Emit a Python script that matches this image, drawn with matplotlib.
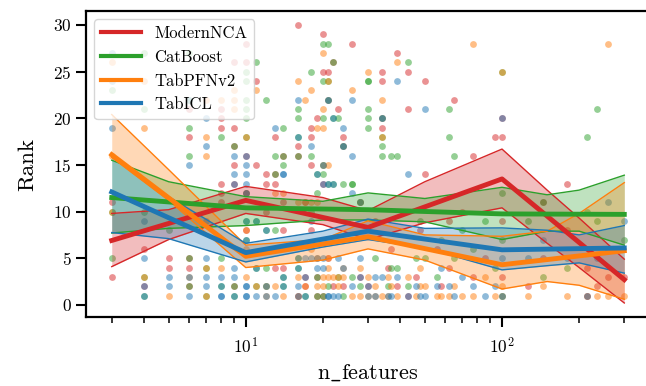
import matplotlib
matplotlib.use("Agg")
from matplotlib import pyplot as plt
from matplotlib.lines import Line2D

plt.rcParams["font.family"] = ["cmr10", "DejaVu Serif"]
plt.rcParams["mathtext.fontset"] = "cm"
plt.rcParams["axes.formatter.use_mathtext"] = True
plt.rcParams["axes.unicode_minus"] = False

models = ["ModernNCA", "CatBoost", "TabPFNv2", "TabICL"]
colors = ["#d62728", "#2ca02c", "#ff7f0e", "#1f77b4"]

# per-dataset ranks, keyed by n_features
modernnca_ranks = {3: [3, 11], 4: [6, 2], 5: [5, 4], 6: [21, 18, 5, 4, 2], 7: [9],
                   8: [21, 20, 19, 13, 12, 11], 9: [26, 19, 15, 13, 2, 17], 10: [28, 26, 16, 12, 8],
                   11: [24, 15], 12: [14, 13, 10], 13: [18, 14, 13, 4], 14: [16, 4, 11, 8],
                   16: [30, 17, 16, 1], 17: [3, 2, 11], 18: [19, 18, 15, 8], 19: [20, 3, 1],
                   20: [29, 25, 13, 1], 21: [25, 22, 5], 22: [26, 2], 23: [21], 24: [18, 17, 2],
                   26: [28], 28: [11, 3], 30: [2], 32: [9], 34: [25, 24, 19, 20], 36: [4], 37: [6],
                   39: [27, 2], 43: [25, 21, 1], 46: [3], 48: [8], 50: [24, 14], 56: [6], 58: [2],
                   62: [4, 9], 65: [22], 70: [10], 77: [16, 3], 86: [5], 94: [18],
                   100: [20, 18, 9, 3], 126: [2], 144: [11, 5], 180: [13, 8], 215: [4, 1],
                   235: [2], 260: [3], 300: [3]}
catboost_ranks = {3: [23, 10, 5], 4: [27, 21, 10, 3, 1], 5: [8], 6: [27, 22, 19, 16, 5, 2], 7: [4, 1],
                  8: [18, 5, 2], 9: [17, 2, 1], 10: [25, 24, 22, 21, 20, 18, 12, 9, 7],
                  11: [26, 4, 2, 9], 12: [22, 4, 2, 8], 13: [16, 14, 8], 14: [19, 16, 15, 3, 2],
                  16: [21, 20, 18, 5, 4, 16], 17: [1], 18: [25, 16, 10], 19: [14, 12, 3, 1],
                  20: [28, 24, 20, 15, 14, 1], 21: [28, 24, 22, 2, 13], 22: [26, 20, 13], 23: [20, 3],
                  24: [17, 13, 1], 26: [13, 3, 13], 28: [11, 2], 30: [24, 24, 21, 20, 19], 32: [5],
                  34: [20, 18, 17, 16], 36: [2], 37: [16, 4], 39: [16, 4], 43: [26, 2], 46: [5],
                  48: [9], 50: [5], 56: [3], 58: [7], 62: [21, 18], 65: [16, 5], 70: [8], 77: [6],
                  86: [9], 94: [4], 100: [25, 12, 7, 1], 126: [9], 144: [11, 3], 180: [4],
                  215: [18, 10], 235: [21, 9], 260: [6], 300: [7]}
tabpfnv2_ranks = {3: [26, 16, 10], 4: [24, 19, 3], 5: [1], 6: [3], 7: [22, 18, 16, 4, 1], 8: [22, 4],
                  9: [23, 22, 21], 10: [18, 8, 6, 3], 11: [23, 2], 12: [1, 2], 13: [2, 12],
                  14: [1, 12], 16: [24, 3, 1, 11], 17: [22, 2, 11], 18: [23, 6, 11], 19: [19, 2, 11, 5],
                  20: [27, 21, 19, 3, 2, 15], 21: [24, 15, 5, 4, 3], 22: [3], 23: [3, 2], 24: [4, 3],
                  26: [23, 1], 28: [11, 1, 4], 30: [25, 1, 3], 32: [1, 2], 34: [22, 18, 1],
                  36: [1, 3], 37: [2], 39: [26, 1], 43: [3], 46: [1], 48: [2, 4], 50: [2], 56: [1],
                  58: [1], 62: [1], 65: [2], 70: [1], 77: [28, 1], 86: [3], 94: [1],
                  100: [25, 2, 1], 126: [1], 144: [2], 180: [1], 215: [1], 235: [1], 260: [28, 1],
                  300: [1]}
tabicl_ranks = {3: [27, 24, 19], 4: [9, 5, 2, 1], 5: [3, 2], 6: [22, 15, 3, 1], 7: [20, 17, 5, 3, 2],
                8: [3, 2, 1, 1], 9: [16, 14, 13, 4, 3, 1], 10: [16, 15, 14, 13, 12, 9, 7, 2, 1, 2, 1],
                11: [1, 4, 9], 12: [2, 8, 1], 13: [19, 1], 14: [14, 14, 3, 2], 16: [22, 18, 5, 4, 2, 1],
                17: [3, 1, 5], 18: [17, 9, 5], 19: [14, 4, 5], 20: [15, 13, 5, 4], 21: [22, 13, 1, 1],
                22: [20, 1, 13], 23: [1, 5], 24: [19, 17, 4], 26: [22, 16, 12, 2], 28: [11, 5, 3],
                30: [1, 2], 32: [3, 1], 34: [20, 3], 36: [1], 37: [1], 39: [24, 3], 43: [14, 1],
                46: [2], 48: [1], 50: [21, 1], 56: [2], 58: [4], 62: [2], 65: [1], 70: [3], 77: [2],
                86: [1], 94: [2], 100: [20, 5, 1], 126: [5], 144: [7], 180: [5], 215: [1], 235: [5],
                260: [11], 300: [9]}

# binned mean rank
mean_x = [3, 10, 30, 100, 300]
modernnca_mean = [6.9, 11.2, 8.3, 13.5, 2.7]
catboost_mean = [11.5, 10.4, 10.2, 9.75, 9.7]
tabpfnv2_mean = [16.1, 5.2, 7.3, 4.3, 5.8]
tabicl_mean = [12.1, 5.6, 7.9, 5.9, 6.1]

# confidence band
band_x = [3, 5, 10, 20, 30, 50, 100, 150, 200, 300]
modernnca_lo = [4.1, 7.0, 9.8, 8.6, 7.0, 8.8, 10.4, 6.6, 4.0, 0.2]
modernnca_hi = [9.8, 10.2, 12.7, 11.5, 10.1, 13.2, 16.7, 12.3, 9.3, 4.9]
catboost_lo = [7.7, 8.2, 8.5, 9.1, 9.1, 8.9, 7.0, 7.9, 7.9, 6.4]
catboost_hi = [15.5, 13.2, 11.6, 11.1, 12.0, 11.4, 12.6, 11.8, 12.3, 13.9]
tabpfnv2_lo = [15.8, 11.2, 4.0, 4.8, 6.0, 4.8, 1.7, 2.5, 2.1, 0.6]
tabpfnv2_hi = [20.4, 14.5, 6.4, 7.0, 9.0, 7.5, 7.35, 7.9, 9.8, 13.1]
tabicl_lo = [7.75, 7.1, 4.6, 6.2, 7.0, 6.1, 3.75, 4.2, 4.5, 3.4]
tabicl_hi = [16.0, 11.6, 6.6, 7.9, 9.2, 8.2, 8.25, 8.0, 7.5, 8.5]

points = [modernnca_ranks, catboost_ranks, tabpfnv2_ranks, tabicl_ranks]
means = [modernnca_mean, catboost_mean, tabpfnv2_mean, tabicl_mean]
lows = [modernnca_lo, catboost_lo, tabpfnv2_lo, tabicl_lo]
highs = [modernnca_hi, catboost_hi, tabpfnv2_hi, tabicl_hi]

fig = plt.figure(figsize=(6.46, 3.86), dpi=100)
ax = fig.add_axes([0.1331, 0.1788, 0.8731, 0.7927])

for pts, color in zip(points, colors):
    xs = [x for x, rs in pts.items() for r in rs]
    ys = [r for x, rs in pts.items() for r in rs]
    ax.scatter(xs, ys, s=24, color=color, alpha=0.5, linewidths=0, zorder=1)

for mean, lo, hi, color in zip(means, lows, highs, colors):
    ax.fill_between(band_x, lo, hi, color=color, alpha=0.3, linewidth=0, zorder=2)
    ax.plot(band_x, lo, color=color, lw=1, zorder=3)
    ax.plot(band_x, hi, color=color, lw=1, zorder=3)
    ax.plot(mean_x, mean, color=color, lw=3.5, zorder=4)

ax.set_xscale("log")
ax.set_xlim(2.38, 378)
ax.set_ylim(-1.3, 31.5)
ax.set_yticks(range(0, 31, 5))
ax.tick_params(which="major", length=7, width=1.5, labelsize=12.5)
ax.tick_params(axis="x", which="major", pad=7)
ax.tick_params(which="minor", length=4, width=1.1)
for sp in ax.spines.values():
    sp.set_linewidth(1.6)

ax.set_ylabel("Rank", fontsize=16.5, labelpad=11)
ax.set_xlabel(r"$\mathrm{n\_features}$", fontsize=16, labelpad=4)

handles = [Line2D([], [], color=c, lw=3) for c in colors]
ax.legend(handles, models, loc="upper left", fontsize=12, handlelength=2.4)

fig.savefig("out.png", dpi=100)
